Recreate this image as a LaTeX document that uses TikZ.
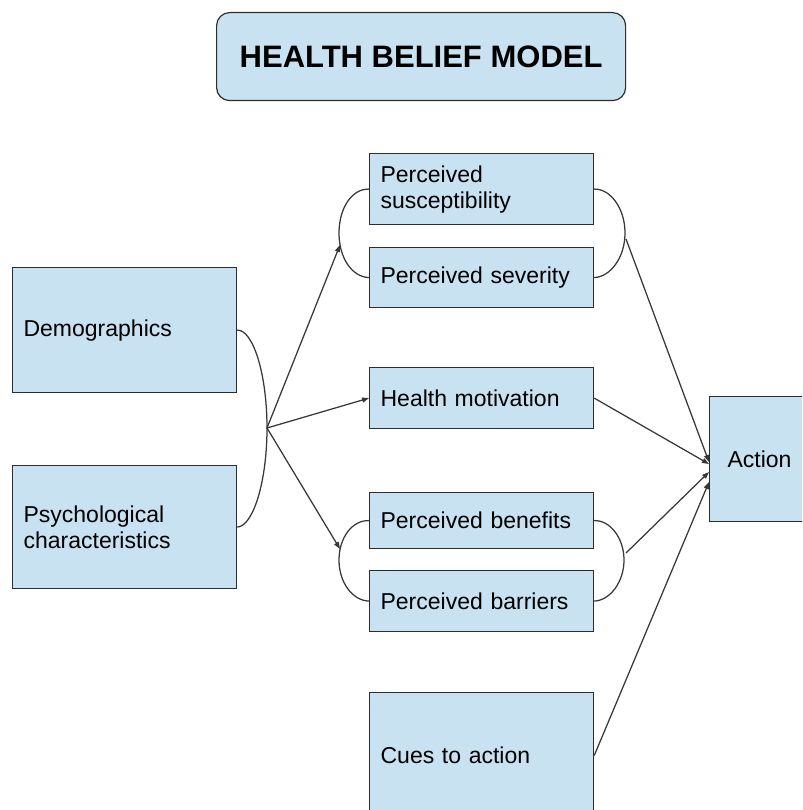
\documentclass[tikz,border=0pt]{standalone}
\usepackage{fontspec}
\setmainfont{Liberation Sans}
\usetikzlibrary{arrows.meta}
\definecolor{boxfill}{RGB}{201,226,241}
\definecolor{edge}{RGB}{45,45,45}
\definecolor{wire}{RGB}{55,55,55}
\begin{document}
\begin{tikzpicture}[x=1pt,y=-1pt,
  box/.style={draw=edge, line width=1.2pt, fill=boxfill, rectangle, anchor=north west,
    inner xsep=11pt, inner ysep=0pt, align=left, text width=202pt,
    font=\fontsize{23}{26}\selectfont},
  link/.style={draw=wire, line width=1.25pt},
  arr/.style={link, -{Triangle[length=7pt,width=5pt]}}]
\useasboundingbox (0,0) rectangle (802,810);
\clip (0,0) rectangle (802,810);

% title
\node[draw=edge, line width=1.2pt, fill=boxfill, rounded corners=13pt,
  minimum width=409pt, minimum height=88pt, anchor=north west,
  font=\bfseries\fontsize{31}{36}\selectfont] (title) at (216,12) {HEALTH BELIEF MODEL};

% modifying factors
\node[box, minimum height=125pt] (demo) at (12,267) {Demographics};
\node[box, minimum height=123pt] (psych) at (12,465) {Psychological\\characteristics};

% beliefs
\node[box, minimum height=71pt] (sus) at (369,153) {Perceived\\susceptibility};
\node[box, minimum height=60pt] (sev) at (369,247) {Perceived severity};
\node[box, minimum height=61pt] (mot) at (369,367) {Health motivation};
\node[box, minimum height=56pt] (ben) at (369,492) {Perceived benefits};
\node[box, minimum height=61pt] (bar) at (369,570) {Perceived barriers};
\node[box, minimum height=126pt] (cues) at (369,692) {Cues to action};

% outcome (runs past the right edge of the page)
\node[box, inner xsep=18pt, text width=180pt, minimum height=125pt] (act) at (709,396) {Action};

% brace joining the modifying factors
\coordinate (hub) at (267,428);
\draw[link] (demo.east) .. controls (253,329.5) and (267,374) .. (hub)
  .. controls (267,482) and (253,526.5) .. (psych.east);

% braces joining the belief pairs
\coordinate (lt) at (339,233);
\coordinate (rt) at (625,233);
\coordinate (lb) at (339,560);
\coordinate (rb) at (624,560);
\draw[link] (sus.west) .. controls (352,188.5) and (339,208) .. (lt)
  .. controls (339,258) and (352,277) .. (sev.west);
\draw[link] (sus.east) .. controls (610,188.5) and (625,208) .. (rt)
  .. controls (625,258) and (610,277) .. (sev.east);
\draw[link] (ben.west) .. controls (352,520) and (339,538) .. (lb)
  .. controls (339,582) and (352,600.5) .. (bar.west);
\draw[link] (ben.east) .. controls (610,520) and (624,538) .. (rb)
  .. controls (624,582) and (610,600.5) .. (bar.east);

% arrow ends and starts on the braces
\coordinate (ltin) at (340,245);
\coordinate (lbin) at (340,549);
\coordinate (rtout) at (626,239);
\coordinate (rbout) at (626,553);

% arrow ends at Action
\coordinate (in1) at (709,462);
\coordinate (in2) at (709,464);
\coordinate (in3) at (709,472);
\coordinate (in4) at (709,482);

% arrows from the modifying factors
\draw[arr] (hub) -- (ltin);
\draw[arr] (hub) -- (mot.west);
\draw[arr] (hub) -- (lbin);

% arrows into Action
\draw[arr] (rtout) -- (in1);
\draw[arr] (mot.east) -- (in2);
\draw[arr] (rbout) -- (in3);
\draw[arr] (cues.east) -- (in4);
\end{tikzpicture}
\end{document}
